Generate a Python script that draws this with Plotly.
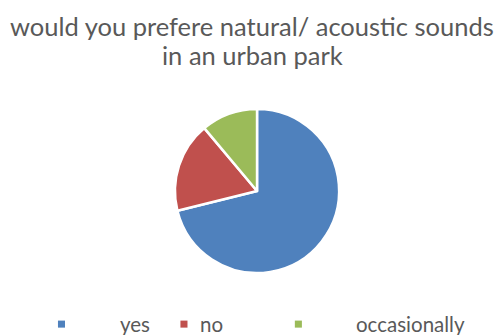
import plotly.graph_objects as go

# Survey answers
answers = ["yes", "no", "occasionally"]
counts = [32, 8, 5]
colors = ["#4F81BD", "#C0504D", "#9BBB59"]

title_lines = ["would you prefere natural/ acoustic sounds", "in an urban park"]
font_family = "Lato"
text_color = "#595959"

fig = go.Figure()
fig.add_trace(go.Pie(
    labels=answers,
    values=counts,
    sort=False,
    direction="clockwise",
    rotation=0,
    marker=dict(colors=colors, line=dict(color="white", width=2.5)),
    textinfo="none",
    hoverinfo="label+value+percent",
    showlegend=False,
    domain=dict(x=[0.345, 0.675], y=[0.185, 0.675]),
))

# Two-line heading
for i, line in enumerate(title_lines):
    fig.add_annotation(text=line, xref="paper", yref="paper", x=0.5,
                       y=1 - (26 + 29 * i) / 335, xanchor="center", yanchor="middle",
                       showarrow=False,
                       font=dict(family=font_family, size=25.5, color=text_color))

# Legend row below the pie: small square key plus label for each answer
key_x = [0.122, 0.365, 0.592]
label_x = [0.268, 0.42, 0.815]
for name, col, kx, lx in zip(answers, colors, key_x, label_x):
    fig.add_shape(type="rect", xref="paper", yref="paper",
                  x0=kx - 0.007, x1=kx + 0.007, y0=0.022, y1=0.043,
                  fillcolor=col, line=dict(width=0))
    fig.add_annotation(text=name, xref="paper", yref="paper", x=lx, y=0.032,
                       xanchor="center", yanchor="middle", showarrow=False,
                       font=dict(family=font_family, size=20.5, color=text_color))

fig.update_layout(
    width=504, height=335,
    margin=dict(l=0, r=0, t=0, b=0),
    paper_bgcolor="white",
    plot_bgcolor="white",
)

fig.write_html("out.html")
